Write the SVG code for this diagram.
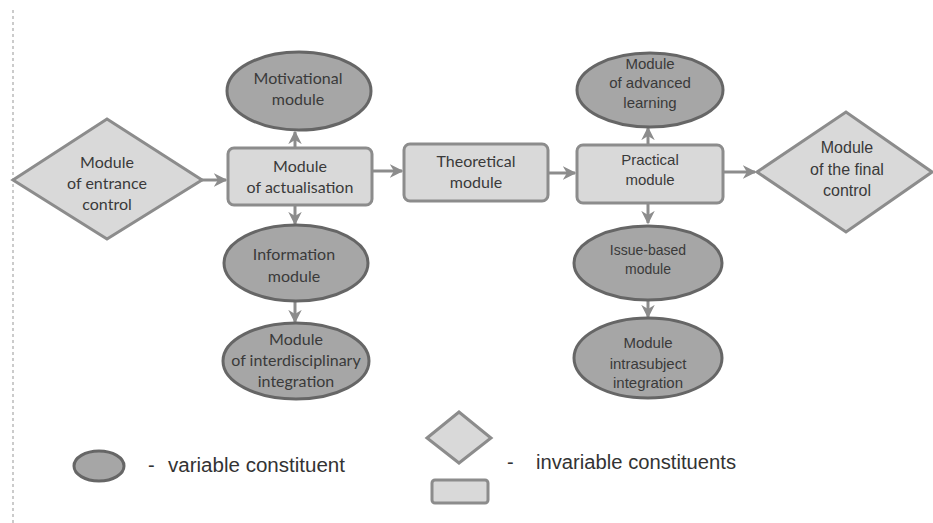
<svg xmlns="http://www.w3.org/2000/svg" width="933" height="523" viewBox="0 0 933 523">
<defs>
<marker id="ah" viewBox="0 0 10 10" refX="9" refY="5" markerWidth="4.5" markerHeight="4.5" orient="auto" markerUnits="strokeWidth">
<path d="M0,0 L10,5 L0,10 L3,5 z" fill="#8c8c8c"/>
</marker>
</defs>
<style>
.var{fill:#a6a6a6;stroke:#666;stroke-width:3}
.inv{fill:#d9d9d9;stroke:#8c8c8c;stroke-width:3}
.t1{font-family:Lato,"Open Sans",sans-serif;font-size:16px;fill:#3a3a3a;text-anchor:middle}
.t2{font-family:"Liberation Sans",Arial,sans-serif;font-size:15px;fill:#3a3a3a;text-anchor:middle}
.lg{font-family:"Liberation Sans",Arial,sans-serif;font-size:20px;fill:#333}
.c{stroke:#8c8c8c;stroke-width:3;fill:none;marker-end:url(#ah)}
</style>
<rect width="933" height="523" fill="#fff"/>
<line x1="13" y1="10" x2="13" y2="523" stroke="#bbb" stroke-width="1.5" stroke-dasharray="3,3"/>

<g id="connectors">
<line class="c" x1="202" y1="180" x2="226" y2="180"/>
<line class="c" x1="295" y1="148" x2="295" y2="132"/>
<line class="c" x1="295" y1="205" x2="295" y2="224"/>
<line class="c" x1="295" y1="302" x2="295" y2="322"/>
<line class="c" x1="372" y1="171" x2="402" y2="171"/>
<line class="c" x1="548" y1="173" x2="575" y2="173"/>
<line class="c" x1="648" y1="145" x2="648" y2="128"/>
<line class="c" x1="648" y1="203" x2="648" y2="223"/>
<line class="c" x1="648" y1="300" x2="648" y2="317"/>
<line class="c" x1="723" y1="172" x2="755" y2="172"/>
</g>

<g id="entrance">
<polygon class="inv" points="13,180 107,119 202,180 107,239"/>
<text class="t1" x="107" y="168">Module</text>
<text class="t1" x="107" y="189">of entrance</text>
<text class="t1" x="107" y="210">control</text>
</g>

<g id="actualisation">
<rect class="inv" x="228" y="148" width="144" height="57" rx="6"/>
<text class="t1" x="300" y="172">Module</text>
<text class="t1" x="300" y="193">of actualisation</text>
</g>

<g id="motivational">
<ellipse class="var" cx="299" cy="91" rx="72" ry="39"/>
<text class="t1" x="298" y="84">Motivational</text>
<text class="t1" x="298" y="105">module</text>
</g>

<g id="information">
<ellipse class="var" cx="296" cy="263" rx="72" ry="38"/>
<text class="t1" x="294" y="260">Information</text>
<text class="t1" x="294" y="282">module</text>
</g>

<g id="interdisciplinary">
<ellipse class="var" cx="296" cy="361" rx="73" ry="38"/>
<text class="t1" x="296" y="345">Module</text>
<text class="t1" x="296" y="366">of interdisciplinary</text>
<text class="t1" x="296" y="387">integration</text>
</g>

<g id="theoretical">
<rect class="inv" x="404" y="144" width="144" height="57" rx="6"/>
<text class="t1" x="476" y="167">Theoretical</text>
<text class="t1" x="476" y="188">module</text>
</g>

<g id="practical">
<rect class="inv" x="577" y="145" width="146" height="58" rx="6"/>
<text class="t2" x="650" y="165">Practical</text>
<text class="t2" x="650" y="185">module</text>
</g>

<g id="advanced">
<ellipse class="var" cx="650" cy="90" rx="73" ry="37"/>
<text class="t2" x="650" y="69">Module</text>
<text class="t2" x="650" y="88">of advanced</text>
<text class="t2" x="650" y="108">learning</text>
</g>

<g id="issue">
<ellipse class="var" cx="648" cy="263" rx="74" ry="37"/>
<text class="t2" x="648" y="255" style="font-size:14px">Issue-based</text>
<text class="t2" x="648" y="274" style="font-size:14px">module</text>
</g>

<g id="intrasubject">
<ellipse class="var" cx="648" cy="358" rx="74" ry="40"/>
<text class="t2" x="648" y="348">Module</text>
<text class="t2" x="648" y="369">intrasubject</text>
<text class="t2" x="648" y="388">integration</text>
</g>

<g id="final">
<polygon class="inv" points="757,172 846,112 932,172 846,232"/>
<text class="t2" x="847" y="153" style="font-size:16px">Module</text>
<text class="t2" x="847" y="175" style="font-size:16px">of the final</text>
<text class="t2" x="847" y="196" style="font-size:16px">control</text>
</g>

<g id="legend">
<ellipse class="var" cx="99" cy="466" rx="25" ry="15"/>
<text class="lg" x="148" y="472">-</text>
<text class="lg" x="168" y="472" textLength="177" lengthAdjust="spacingAndGlyphs">variable constituent</text>
<polygon class="inv" points="427,438 459,412 491,438 459,463"/>
<rect class="inv" x="432" y="480" width="56" height="23" rx="3"/>
<text class="lg" x="507" y="469">-</text>
<text class="lg" x="536" y="469" textLength="200" lengthAdjust="spacingAndGlyphs">invariable constituents</text>
</g>
</svg>
